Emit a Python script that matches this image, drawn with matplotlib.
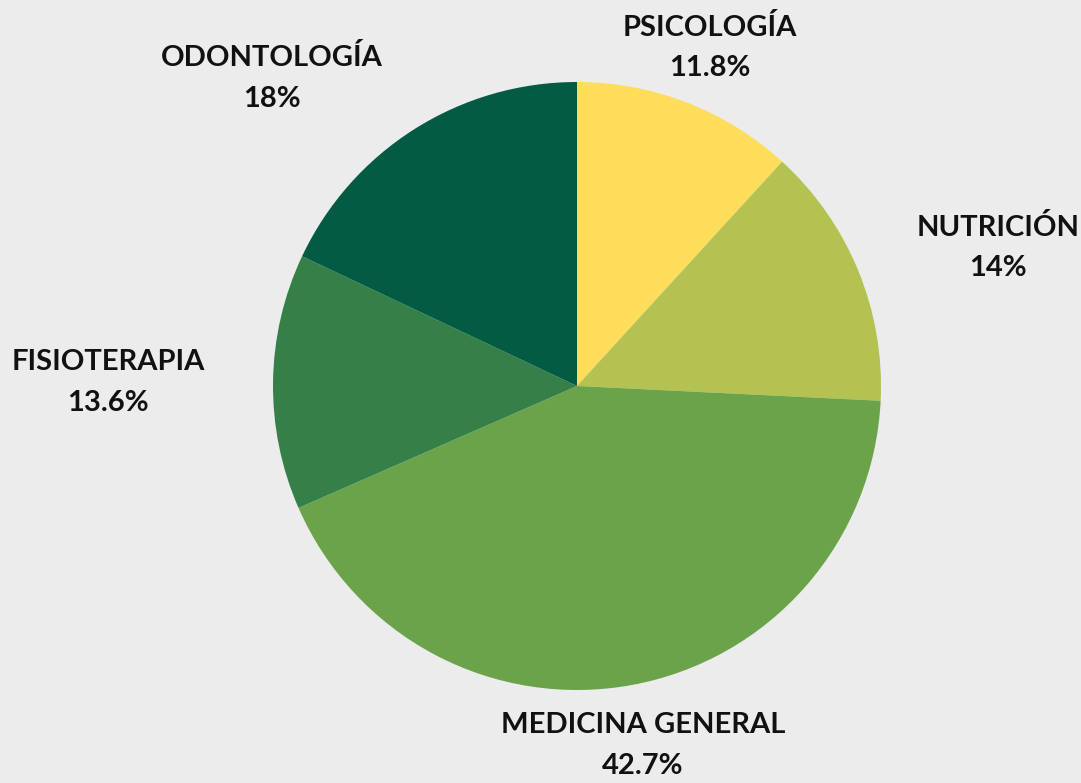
import matplotlib
matplotlib.use("Agg")
import matplotlib.pyplot as plt

categories = ["PSICOLOGÍA", "NUTRICIÓN", "MEDICINA GENERAL", "FISIOTERAPIA", "ODONTOLOGÍA"]
values = [11.8, 14.0, 42.7, 13.6, 18.0]
value_labels = ["11.8%", "14%", "42.7%", "13.6%", "18%"]
colors = ["#FEDD5A", "#B3C251", "#6BA34B", "#358049", "#035B43"]

# label anchor positions (pixels, top-left origin) - layout only
label_pos = [(710, 27), (998, 227), (643, 725), (108, 362), (272, 58)]

W, H = 1081, 783
fig = plt.figure(figsize=(W / 100, H / 100), dpi=100)
fig.patch.set_facecolor("#ECECEC")
ax = fig.add_axes([0, 0, 1, 1])

cx, cy, r = 577, H - 386, 304
ax.pie(values, colors=colors, startangle=90, counterclock=False,
       center=(cx, cy), radius=r, frame=True,
       wedgeprops=dict(linewidth=0))
ax.set_xlim(0, W)
ax.set_ylim(0, H)
ax.set_aspect("equal")
ax.axis("off")

font = dict(family=["Lato", "DejaVu Sans"], fontweight="bold", color="#111111")
for cat, vl, (px, py) in zip(categories, value_labels, label_pos):
    ax.text(px, H - py, cat, ha="center", va="center", fontsize=21, **font)
    ax.text(px, H - py - 41, vl, ha="center", va="center", fontsize=21, **font)

fig.savefig("out.png", dpi=100, facecolor=fig.get_facecolor())
